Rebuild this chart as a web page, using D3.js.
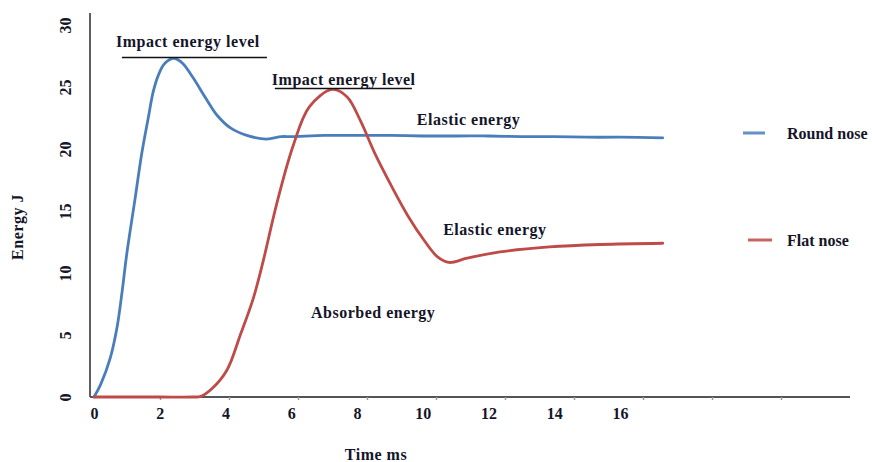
<!DOCTYPE html>
<html>
<head>
<meta charset="utf-8">
<script src="https://cdn.jsdelivr.net/npm/d3@7"></script>
<style>
  html, body { margin: 0; padding: 0; background: #fff; }
  svg text { font-family: "Liberation Serif", "Times New Roman", serif; font-weight: bold; fill: #15152a; }
</style>
</head>
<body>
<svg id="chart" width="872" height="462"></svg>
<script>
// Impact energy vs time for two projectile nose shapes
const roundTime   = [0, 0.2, 0.5, 0.7, 0.85, 1.0, 1.25, 1.45, 1.65, 1.8, 1.95, 2.15, 2.45, 2.7, 3.0, 3.4, 3.75, 4.15, 4.65, 5.25, 5.7, 6, 7, 8, 9, 10, 11, 12, 13, 14, 15, 16, 17.3];
const roundEnergy = [0, 1.0, 3.2, 5.6, 8.4, 11.6, 16.0, 19.6, 22.5, 24.6, 25.9, 26.9, 27.3, 26.9, 25.8, 24.1, 22.7, 21.7, 21.1, 20.8, 21.0, 21.0, 21.1, 21.1, 21.1, 21.05, 21.05, 21.05, 21.0, 21.0, 20.95, 20.95, 20.9];

const flatTime    = [0, 1, 2, 3, 3.25, 3.6, 4.05, 4.45, 4.85, 5.15, 5.55, 6.05, 6.55, 7.25, 7.7, 8.1, 8.55, 9.05, 9.55, 10.05, 10.45, 10.8, 11.35, 12.35, 13.85, 15.4, 17.3];
const flatEnergy  = [0, 0, 0, 0, 0.05, 0.7, 2.2, 5.0, 8.0, 11.0, 15.5, 20.2, 23.4, 24.8, 24.2, 22.3, 19.6, 17.0, 14.6, 12.6, 11.3, 10.85, 11.2, 11.7, 12.1, 12.3, 12.4];

const seriesNames = ["Round nose", "Flat nose"];
const seriesColors = ["#4a7ebb", "#be4b48"];

const xTickValues = [0, 2, 4, 6, 8, 10, 12, 14, 16];
const yTickValues = [0, 5, 10, 15, 20, 25, 30];
const xTitle = "Time ms";
const yTitle = "Energy J";

const svg = d3.select("#chart");

// scales
const x = d3.scaleLinear().domain([0, 16]).range([94, 620]);
const y = d3.scaleLinear().domain([0, 30]).range([397, 25]);
// evenly spaced minor tick marks along the full horizontal axis
const tickIdx = d3.scaleLinear().domain([0, 11]).range([91, 850]);

// axis lines
svg.append("line").attr("x1", 90).attr("x2", 90).attr("y1", 13).attr("y2", y(0))
  .attr("stroke", "#5f5f5f").attr("stroke-width", 2);
svg.append("line").attr("x1", 90).attr("x2", tickIdx(11)).attr("y1", y(0)).attr("y2", y(0))
  .attr("stroke", "#555").attr("stroke-width", 2);

// minor ticks
const minor = svg.append("g").attr("transform", `translate(0,${y(0)})`)
  .call(d3.axisBottom(tickIdx).tickValues(d3.range(1, 11)).tickSize(3).tickFormat(""));
minor.select(".domain").remove();
minor.selectAll("line").attr("stroke", "#999").attr("stroke-width", 1.5);

// x tick labels
const gx = svg.append("g").attr("transform", `translate(0,${y(0)})`)
  .call(d3.axisBottom(x).tickValues(xTickValues).tickSize(0).tickPadding(0));
gx.select(".domain").remove();
gx.selectAll("text").attr("y", 22).attr("dy", 0).style("font-size", "16px");

// y tick labels (rotated)
const gy = svg.append("g")
  .call(d3.axisLeft(y).tickValues(yTickValues).tickSize(0));
gy.select(".domain").remove();
gy.selectAll(".tick text")
  .attr("x", 0).attr("dy", 0)
  .attr("text-anchor", "middle")
  .attr("dominant-baseline", "central")
  .attr("transform", "translate(65,0) rotate(-90)")
  .style("font-size", "16px");

// axis titles
svg.append("text").attr("x", 376).attr("y", 460).attr("text-anchor", "middle")
  .style("font-size", "16px").style("letter-spacing", "0.5px").text(xTitle);
svg.append("text").attr("transform", "translate(23,227) rotate(-90)").attr("text-anchor", "middle")
  .style("font-size", "16px").style("letter-spacing", "0.5px").text(yTitle);

// series lines
const line = d3.line().x(d => x(d[0])).y(d => y(d[1])).curve(d3.curveCatmullRom.alpha(0.5));
const series = [
  d3.zip(roundTime, roundEnergy),
  d3.zip(flatTime, flatEnergy)
];
series.forEach((pts, i) => {
  svg.append("path").datum(pts).attr("d", line)
    .attr("fill", "none").attr("stroke", seriesColors[i])
    .attr("stroke-width", 2.8).attr("stroke-linejoin", "round").attr("stroke-linecap", "round");
});

// impact energy level markers at each series' peak
const peaks = [d3.max(roundEnergy), d3.max(flatEnergy)];
const impactSpans = [[0.85, 5.26], [5.5, 9.67]];
const impactLabelAt = [[0.67, 28.2], [5.41, 25.2]];
peaks.forEach((p, i) => {
  svg.append("line")
    .attr("x1", x(impactSpans[i][0])).attr("x2", x(impactSpans[i][1]))
    .attr("y1", y(p) - 1).attr("y2", y(p) - 1)
    .attr("stroke", "#111").attr("stroke-width", 1.5);
  svg.append("text").attr("x", x(impactLabelAt[i][0])).attr("y", y(impactLabelAt[i][1]))
    .style("font-size", "16px").style("letter-spacing", "0.5px").text("Impact energy level");
});

// region annotations
const notes = [
  { text: "Elastic energy", t: 9.82, v: 21.9 },
  { text: "Elastic energy", t: 10.62, v: 13.1 },
  { text: "Absorbed energy", t: 6.6, v: 6.4 }
];
notes.forEach(n => {
  svg.append("text").attr("x", x(n.t)).attr("y", y(n.v))
    .style("font-size", "16px").style("letter-spacing", "0.5px").text(n.text);
});

// legend
const legend = [
  { x1: 743, x2: 765, y: 133 },
  { x1: 748, x2: 772, y: 240 }
];
legend.forEach((l, i) => {
  svg.append("line").attr("x1", l.x1).attr("x2", l.x2).attr("y1", l.y).attr("y2", l.y)
    .attr("stroke", seriesColors[i]).attr("stroke-width", 3).attr("opacity", 0.85);
  svg.append("text").attr("x", 787).attr("y", l.y).attr("dominant-baseline", "central")
    .style("font-size", "16px").text(seriesNames[i]);
});
</script>
</body>
</html>
